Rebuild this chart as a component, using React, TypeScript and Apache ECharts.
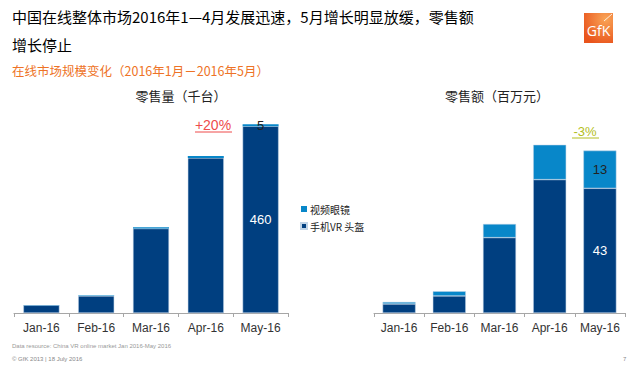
import React, { useEffect, useRef } from "react";
import * as echarts from "echarts";

const categories = ["Jan-16", "Feb-16", "Mar-16", "Apr-16", "May-16"];
const seriesNames = ["视频眼镜", "手机VR 头盔"];
// 零售量（千台）
const volumePhoneVR = [19, 42, 208, 382, 460];
const volumeGlasses = [1, 1, 3, 5, 5];
// 零售额（百万元）
const valuePhoneVR = [3.1, 5.9, 26, 46, 43];
const valueGlasses = [0.7, 1.6, 4.7, 12, 13];
const volumeLabelIndex = 4;
const valueLabelIndex = 4;

const DARK = "#003F80";
const LIGHT = "#0887C9";
const FONT = "'Liberation Sans', Arial, sans-serif";
const CJK = "'Noto Sans CJK SC', sans-serif";

export default function App() {
  const ref = useRef<HTMLDivElement>(null);
  useEffect(() => {
    if (!ref.current) return;
    const chart = echarts.init(ref.current, undefined, { renderer: "svg" });

    const labelFn = (idx: number, text: (v: number) => string) => ({
      show: true,
      position: "inside" as const,
      fontFamily: FONT,
      fontSize: 13,
      formatter: (p: any) => (p.dataIndex === idx ? text(p.value) : ""),
    });

    const xAxisBase = {
      type: "category" as const,
      data: categories,
      axisLine: { lineStyle: { color: "#A6A6A6", width: 1 } },
      axisTick: { show: true, length: 4, lineStyle: { color: "#A6A6A6" } },
      axisLabel: {
        color: "#333",
        fontSize: 12,
        fontFamily: FONT,
        margin: 9,
        interval: 0,
        hideOverlap: false,
      },
    };
    const yAxisBase = {
      type: "value" as const,
      show: false,
      min: 0,
      splitLine: { show: false },
    };

    chart.setOption({
      animation: false,
      backgroundColor: "#fff",
      grid: [
        { left: 14, top: 110, width: 274, height: 203 },
        { left: 374, top: 110, width: 251, height: 203 },
      ],
      xAxis: [
        { ...xAxisBase, gridIndex: 0 },
        { ...xAxisBase, gridIndex: 1 },
      ],
      yAxis: [
        { ...yAxisBase, gridIndex: 0, max: 500 },
        { ...yAxisBase, gridIndex: 1, max: 70 },
      ],
      legend: {
        orient: "vertical",
        left: 295,
        top: 199,
        data: seriesNames,
        icon: "rect",
        itemWidth: 6,
        itemHeight: 6,
        itemGap: 7,
        selectedMode: false,
        textStyle: { fontSize: 10, color: "#222", fontFamily: CJK, padding: [0, 0, 0, -2] },
      },
      series: [
        {
          name: seriesNames[1],
          type: "bar",
          stack: "vol",
          xAxisIndex: 0,
          yAxisIndex: 0,
          data: volumePhoneVR,
          barWidth: 36,
          itemStyle: { color: DARK, borderColor: "#BFD3E6", borderWidth: 0.5 },
          label: { ...labelFn(volumeLabelIndex, (v) => String(v)), color: "#fff" },
        },
        {
          name: seriesNames[0],
          type: "bar",
          stack: "vol",
          xAxisIndex: 0,
          yAxisIndex: 0,
          data: volumeGlasses,
          barWidth: 36,
          itemStyle: { color: LIGHT },
          label: { ...labelFn(volumeLabelIndex, (v) => String(v)), color: "#222" },
        },
        {
          name: seriesNames[1],
          type: "bar",
          stack: "val",
          xAxisIndex: 1,
          yAxisIndex: 1,
          data: valuePhoneVR,
          barWidth: 33,
          itemStyle: { color: DARK, borderColor: "#BFD3E6", borderWidth: 0.5 },
          label: { ...labelFn(valueLabelIndex, (v) => String(v)), color: "#fff" },
        },
        {
          name: seriesNames[0],
          type: "bar",
          stack: "val",
          xAxisIndex: 1,
          yAxisIndex: 1,
          data: valueGlasses,
          barWidth: 33,
          itemStyle: { color: LIGHT, borderColor: "#BFD3E6", borderWidth: 0.5 },
          label: { ...labelFn(valueLabelIndex, (v) => String(v)), color: "#222" },
        },
      ],
      graphic: [
        {
          type: "text",
          left: 12,
          top: 2,
          style: {
            text: "中国在线整体市场2016年1—4月发展迅速，5月增长明显放缓，零售额\n增长停止",
            fontFamily: CJK,
            fontSize: 15,
            fontWeight: "normal",
            fill: "#000",
            lineHeight: 28,
          },
        },
        {
          type: "text",
          left: 12,
          top: 64,
          style: {
            text: "在线市场规模变化（2016年1月－2016年5月）",
            fontFamily: CJK,
            fontSize: 12.5,
            fill: "#EE7326",
          },
        },
        {
          type: "text",
          x: 181,
          y: 95,
          style: {
            text: "零售量（千台）",
            fontFamily: CJK,
            fontSize: 13,
            fill: "#222",
            align: "center",
            verticalAlign: "middle",
          },
        },
        {
          type: "text",
          x: 497,
          y: 95,
          style: {
            text: "零售额（百万元）",
            fontFamily: CJK,
            fontSize: 13,
            fill: "#222",
            align: "center",
            verticalAlign: "middle",
          },
        },
        {
          type: "text",
          x: 213,
          y: 125,
          style: {
            text: "+20%",
            fontFamily: FONT,
            fontSize: 14,
            fill: "#EE4B4B",
            align: "center",
            verticalAlign: "middle",
          },
        },
        {
          type: "line",
          shape: { x1: 195, y1: 132, x2: 232, y2: 132 },
          style: { stroke: "#EE4B4B", lineWidth: 1 },
        },
        {
          type: "text",
          x: 585,
          y: 131,
          style: {
            text: "-3%",
            fontFamily: FONT,
            fontSize: 13,
            fill: "#B3BE22",
            align: "center",
            verticalAlign: "middle",
          },
        },
        {
          type: "line",
          shape: { x1: 572, y1: 138, x2: 599, y2: 138 },
          style: { stroke: "#B3BE22", lineWidth: 1 },
        },
        {
          type: "rect",
          shape: { x: 584, y: 13, width: 29, height: 30 },
          style: {
            fill: {
              type: "radial",
              x: 0.75,
              y: 0.2,
              r: 0.9,
              colorStops: [
                { offset: 0, color: "#F9A456" },
                { offset: 1, color: "#E9541C" },
              ],
            } as any,
          },
        },
        {
          type: "line",
          shape: { x1: 604, y1: 21, x2: 612, y2: 14 },
          style: { stroke: "#fff", lineWidth: 0.8 },
        },
        {
          type: "text",
          x: 598.5,
          y: 30,
          style: {
            text: "GfK",
            fontFamily: "'Open Sans', sans-serif",
            fontSize: 14,
            fill: "#fff",
            align: "center",
            verticalAlign: "middle",
          },
        },
        {
          type: "text",
          left: 12,
          top: 343,
          style: {
            text: "Data resource: China VR online market Jan 2016-May 2016",
            fontFamily: FONT,
            fontSize: 6,
            fill: "#999",
          },
        },
        {
          type: "text",
          left: 12,
          top: 356,
          style: {
            text: "© GfK 2013 | 18 July 2016",
            fontFamily: FONT,
            fontSize: 6,
            fill: "#888",
          },
        },
        {
          type: "text",
          left: 623,
          top: 356,
          style: { text: "7", fontFamily: FONT, fontSize: 6, fill: "#888" },
        },
      ],
    });
    return () => chart.dispose();
  }, []);
  return (
    <div
      ref={ref}
      style={{ position: "fixed", left: 0, top: 0, width: 640, height: 368 }}
    />
  );
}
